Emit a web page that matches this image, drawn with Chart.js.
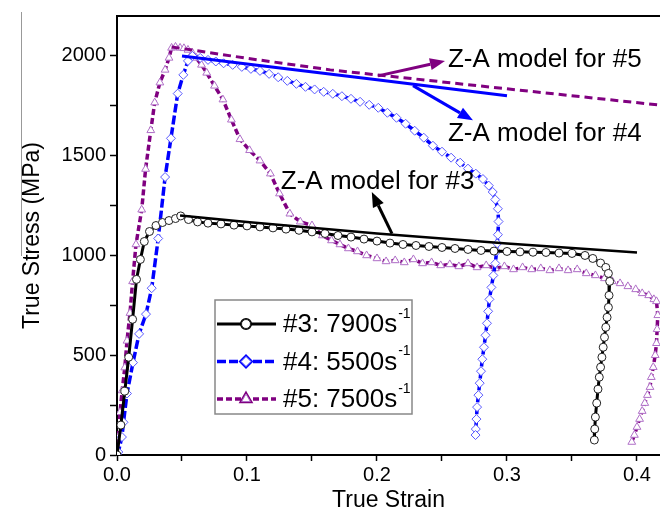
<!DOCTYPE html>
<html>
<head>
<meta charset="utf-8">
<script src="https://cdn.jsdelivr.net/npm/chart.js@4.4.1/dist/chart.umd.min.js"></script>
<style>
  html, body { margin: 0; padding: 0; background: #fff; }
</style>
</head>
<body>
<canvas id="stressChart" width="660" height="519"></canvas>
<script>
// measured curves, [true strain, true stress MPa]
const sample3 = [[0,0],[0.003,150],[0.006,320],[0.009,490],[0.012,680],[0.015,880],[0.018,980],[0.021,1070],[0.025,1120],[0.03,1150],[0.035,1165],[0.04,1175],[0.045,1185],[0.049,1198],[0.055,1180],[0.062,1168],[0.07,1162],[0.08,1158],[0.09,1152],[0.1,1148],[0.11,1143],[0.12,1138],[0.13,1132],[0.14,1126],[0.15,1118],[0.16,1110],[0.17,1100],[0.18,1092],[0.19,1082],[0.2,1072],[0.21,1062],[0.22,1055],[0.23,1050],[0.24,1045],[0.25,1040],[0.26,1035],[0.27,1030],[0.28,1025],[0.29,1022],[0.3,1020],[0.31,1018],[0.32,1016],[0.33,1015],[0.34,1012],[0.35,1010],[0.36,1000],[0.366,985],[0.372,962],[0.376,940],[0.378,910],[0.379,870],[0.3785,800],[0.378,740],[0.377,690],[0.376,640],[0.375,590],[0.374,540],[0.373,490],[0.372,440],[0.371,390],[0.37,330],[0.369,260],[0.368,190],[0.3675,130],[0.3672,75]];
const sample4 = [[0,0],[0.001,15],[0.0038,90],[0.005,164],[0.0077,308],[0.0123,463],[0.017,607],[0.0223,706],[0.0267,836],[0.0317,1085],[0.037,1393],[0.0415,1587],[0.0467,1811],[0.051,1905],[0.0546,1975],[0.058,2000],[0.064,1990],[0.07,1980],[0.076,1972],[0.082,1963],[0.089,1955],[0.096,1945],[0.103,1935],[0.11,1925],[0.117,1910],[0.124,1893],[0.131,1875],[0.138,1860],[0.145,1845],[0.152,1832],[0.159,1820],[0.166,1810],[0.173,1798],[0.18,1785],[0.187,1770],[0.194,1755],[0.201,1740],[0.208,1715],[0.215,1690],[0.222,1660],[0.229,1625],[0.236,1590],[0.243,1550],[0.25,1520],[0.257,1490],[0.264,1465],[0.27,1435],[0.276,1410],[0.2815,1383],[0.286,1350],[0.289,1318],[0.291,1280],[0.293,1234],[0.2935,1170],[0.293,1104],[0.2925,1060],[0.292,1020],[0.291,960],[0.2895,900],[0.288,840],[0.2865,780],[0.2855,720],[0.2846,660],[0.2835,600],[0.2823,540],[0.281,480],[0.28,420],[0.279,360],[0.278,300],[0.277,240],[0.2765,180],[0.276,130],[0.2758,100]];
const sample5 = [[0,0],[0.001,90],[0.0023,214],[0.004,323],[0.006,438],[0.0077,572],[0.01,711],[0.012,870],[0.0146,1055],[0.019,1229],[0.022,1433],[0.026,1627],[0.029,1766],[0.033,1866],[0.037,1930],[0.04,1990],[0.042,2040],[0.045,2045],[0.0485,2040],[0.0515,2038],[0.0546,2030],[0.058,2015],[0.061,1990],[0.065,1955],[0.069,1915],[0.075,1850],[0.0815,1781],[0.088,1680],[0.0946,1582],[0.102,1527],[0.11,1475],[0.118,1410],[0.125,1310],[0.133,1209],[0.141,1169],[0.15,1150],[0.158,1100],[0.165,1075],[0.1715,1055],[0.178,1035],[0.185,1020],[0.192,1000],[0.2,985],[0.207,970],[0.214,975],[0.221,965],[0.228,980],[0.235,960],[0.242,965],[0.249,950],[0.256,955],[0.263,945],[0.27,960],[0.277,940],[0.284,950],[0.291,935],[0.298,945],[0.305,930],[0.312,940],[0.319,930],[0.326,935],[0.333,925],[0.34,935],[0.347,925],[0.354,930],[0.361,910],[0.368,900],[0.375,885],[0.381,870],[0.387,860],[0.393,845],[0.399,830],[0.404,810],[0.409,800],[0.413,780],[0.415,770],[0.416,700],[0.4155,630],[0.415,560],[0.414,500],[0.4125,440],[0.411,390],[0.41,340],[0.408,300],[0.406,260],[0.404,220],[0.402,180],[0.4,140],[0.398,100],[0.396,65]];

// Z-A model fits
const model3 = [[0.0485,1200],[0.1,1168],[0.2,1110],[0.3,1060],[0.4,1015]];
const model4 = [[0.05,2000],[0.1,1960],[0.2,1880],[0.3,1800]];
const model5 = [[0.042,2045],[0.1,1988],[0.164,1930],[0.3,1835],[0.42,1752]];

const legendNames = ['#3: 7900s', '#4: 5500s', '#5: 7500s'];
const noteText = ['Z-A model for #5', 'Z-A model for #4', 'Z-A model for #3'];
const noteAt = [[0.2546,1980],[0.2546,1612],[0.126,1368]];
const arrowFrom = [[0.2008,1900],[0.2277,1851],[0.2115,1109]];
const arrowTo = [[0.2523,1975],[0.2738,1677],[0.196,1318]];
const noteColors = ['#800080', '#0000ff', '#000000'];

const xMajor = [0, 0.1, 0.2, 0.3, 0.4];
const xMinor = [0.05, 0.15, 0.25, 0.35];
const yMajor = [0, 500, 1000, 1500, 2000];
const yMinor = [250, 750, 1250, 1750];

const FONT = '"Liberation Sans", Arial, sans-serif';
const toPts = (arr) => arr.map((p) => ({ x: p[0], y: p[1] }));

const curves = [
  {
    data: toPts(sample3), borderColor: '#000', borderWidth: 3, borderDash: [],
    pointStyle: 'circle', pointRadius: 4, pointBorderColor: '#222', pointBackgroundColor: '#fff', pointBorderWidth: 1,
  },
  {
    data: toPts(sample4), borderColor: '#0000ff', borderWidth: 3.5, borderDash: [9, 3],
    pointStyle: 'rectRot', pointRadius: 4.5, pointBorderColor: '#5a5aff', pointBackgroundColor: '#fff', pointBorderWidth: 1,
  },
  {
    data: toPts(sample5), borderColor: '#800080', borderWidth: 3.5, borderDash: [6, 3],
    pointStyle: 'triangle', pointRadius: 4.5, pointBorderColor: '#b070c8', pointBackgroundColor: '#fff', pointBorderWidth: 1,
  },
];

const models = [
  { data: toPts(model3), borderColor: '#000', borderWidth: 2.5, borderDash: [], pointRadius: 0 },
  { data: toPts(model4), borderColor: '#0000ff', borderWidth: 3, borderDash: [], pointRadius: 0 },
  { data: toPts(model5), borderColor: '#800080', borderWidth: 3, borderDash: [8, 5], pointRadius: 0 },
];

function drawArrow(ctx, x1, y1, x2, y2, color) {
  const ang = Math.atan2(y2 - y1, x2 - x1);
  const head = 15;
  const half = 6;
  const bx = x2 - head * Math.cos(ang);
  const by = y2 - head * Math.sin(ang);
  ctx.strokeStyle = color;
  ctx.fillStyle = color;
  ctx.lineWidth = 3;
  ctx.setLineDash([]);
  ctx.beginPath();
  ctx.moveTo(x1, y1);
  ctx.lineTo(bx, by);
  ctx.stroke();
  ctx.beginPath();
  ctx.moveTo(x2, y2);
  ctx.lineTo(bx + half * Math.sin(ang), by - half * Math.cos(ang));
  ctx.lineTo(bx - half * Math.sin(ang), by + half * Math.cos(ang));
  ctx.closePath();
  ctx.fill();
}

const extras = {
  id: 'extras',
  afterDatasetsDraw(chart) {
    const { ctx, chartArea, scales } = chart;
    const sx = scales.x;
    const sy = scales.y;
    ctx.save();

    // top frame line
    ctx.strokeStyle = '#000';
    ctx.lineWidth = 2;
    ctx.beginPath();
    ctx.moveTo(chartArea.left, chartArea.top);
    ctx.lineTo(chartArea.right, chartArea.top);
    ctx.stroke();

    // faint stray line left of the axis title
    ctx.strokeStyle = '#999';
    ctx.lineWidth = 1;
    ctx.beginPath();
    ctx.moveTo(21.5, 12);
    ctx.lineTo(21.5, 256);
    ctx.stroke();

    // arrows and notes
    noteText.forEach((txt, i) => {
      drawArrow(ctx,
        sx.getPixelForValue(arrowFrom[i][0]), sy.getPixelForValue(arrowFrom[i][1]),
        sx.getPixelForValue(arrowTo[i][0]), sy.getPixelForValue(arrowTo[i][1]),
        noteColors[i]);
      ctx.fillStyle = '#000';
      ctx.font = '26px ' + FONT;
      ctx.textBaseline = 'middle';
      ctx.textAlign = 'left';
      ctx.fillText(txt, sx.getPixelForValue(noteAt[i][0]), sy.getPixelForValue(noteAt[i][1]));
    });

    // legend box
    const lx = chartArea.left + 98;
    const ly = chartArea.top + 284;
    ctx.fillStyle = '#fff';
    ctx.fillRect(lx, ly, 197, 114);
    ctx.strokeStyle = '#888';
    ctx.lineWidth = 1.5;
    ctx.strokeRect(lx, ly, 197, 114);
    legendNames.forEach((name, i) => {
      const c = curves[i];
      const cy = ly + 24 + i * 37.5;
      ctx.strokeStyle = c.borderColor;
      ctx.lineWidth = c.borderWidth;
      ctx.setLineDash(c.borderDash);
      ctx.beginPath();
      ctx.moveTo(lx + 2, cy);
      ctx.lineTo(lx + 61, cy);
      ctx.stroke();
      ctx.setLineDash([]);
      Chart.helpers.drawPoint(ctx, {
        pointStyle: c.pointStyle, radius: c.pointRadius + 0.5, borderWidth: 1, rotation: 0,
      }, lx + 31, cy);
      ctx.fillStyle = '#fff';
      ctx.strokeStyle = c.pointBorderColor;
      ctx.lineWidth = 1;
      ctx.fill();
      ctx.stroke();
      ctx.fillStyle = '#000';
      ctx.font = '26px ' + FONT;
      ctx.textBaseline = 'middle';
      ctx.fillText(name, lx + 68, cy + 1);
      const w = ctx.measureText(name).width;
      ctx.font = '14px ' + FONT;
      ctx.fillText('-1', lx + 68 + w + 1, cy - 10);
    });
    ctx.restore();
  },
};

const tickFont = { family: FONT, size: 20 };
const titleFont = { family: FONT, size: 23 };

new Chart(document.getElementById('stressChart'), {
  type: 'scatter',
  data: {
    datasets: [...models, ...curves].map((d) => ({ ...d, showLine: true, tension: 0, fill: false })),
  },
  options: {
    responsive: false,
    animation: false,
    devicePixelRatio: 1,
    layout: { autoPadding: false, padding: { top: 14, right: 0, left: 0, bottom: 0 } },
    plugins: { legend: { display: false }, tooltip: { enabled: false } },
    scales: {
      x: {
        type: 'linear',
        min: 0,
        max: 0.4177,
        afterFit: (s) => { s.height = 64; s.paddingLeft = 0; s.paddingRight = 0; },
        afterBuildTicks: (s) => { s.ticks = [...xMajor, ...xMinor].sort((a, b) => a - b).map((v) => ({ value: v })); },
        ticks: {
          autoSkip: false,
          maxRotation: 0,
          padding: 2,
          color: '#000',
          font: tickFont,
          callback: (v) => (xMajor.includes(v) ? v.toFixed(1) : ''),
        },
        grid: { drawOnChartArea: false, tickLength: 6, tickWidth: 1.5, tickColor: '#000' },
        border: { display: true, color: '#000', width: 2 },
        title: { display: true, text: 'True Strain', color: '#000', font: titleFont, padding: { top: 0, bottom: 5 } },
      },
      y: {
        type: 'linear',
        min: 0,
        max: 2200,
        afterFit: (s) => { s.width = 117; },
        afterBuildTicks: (s) => { s.ticks = [...yMajor, ...yMinor].sort((a, b) => a - b).map((v) => ({ value: v })); },
        ticks: {
          autoSkip: false,
          padding: 4,
          color: '#000',
          font: tickFont,
          callback: (v) => (yMajor.includes(v) ? String(v) : ''),
        },
        grid: { drawOnChartArea: false, tickLength: 7, tickWidth: 1.5, tickColor: '#000' },
        border: { display: true, color: '#000', width: 2 },
        title: { display: true, text: 'True Stress (MPa)', color: '#000', font: titleFont, padding: { top: 19, bottom: 0 } },
      },
    },
  },
  plugins: [extras],
});
</script>
</body>
</html>
